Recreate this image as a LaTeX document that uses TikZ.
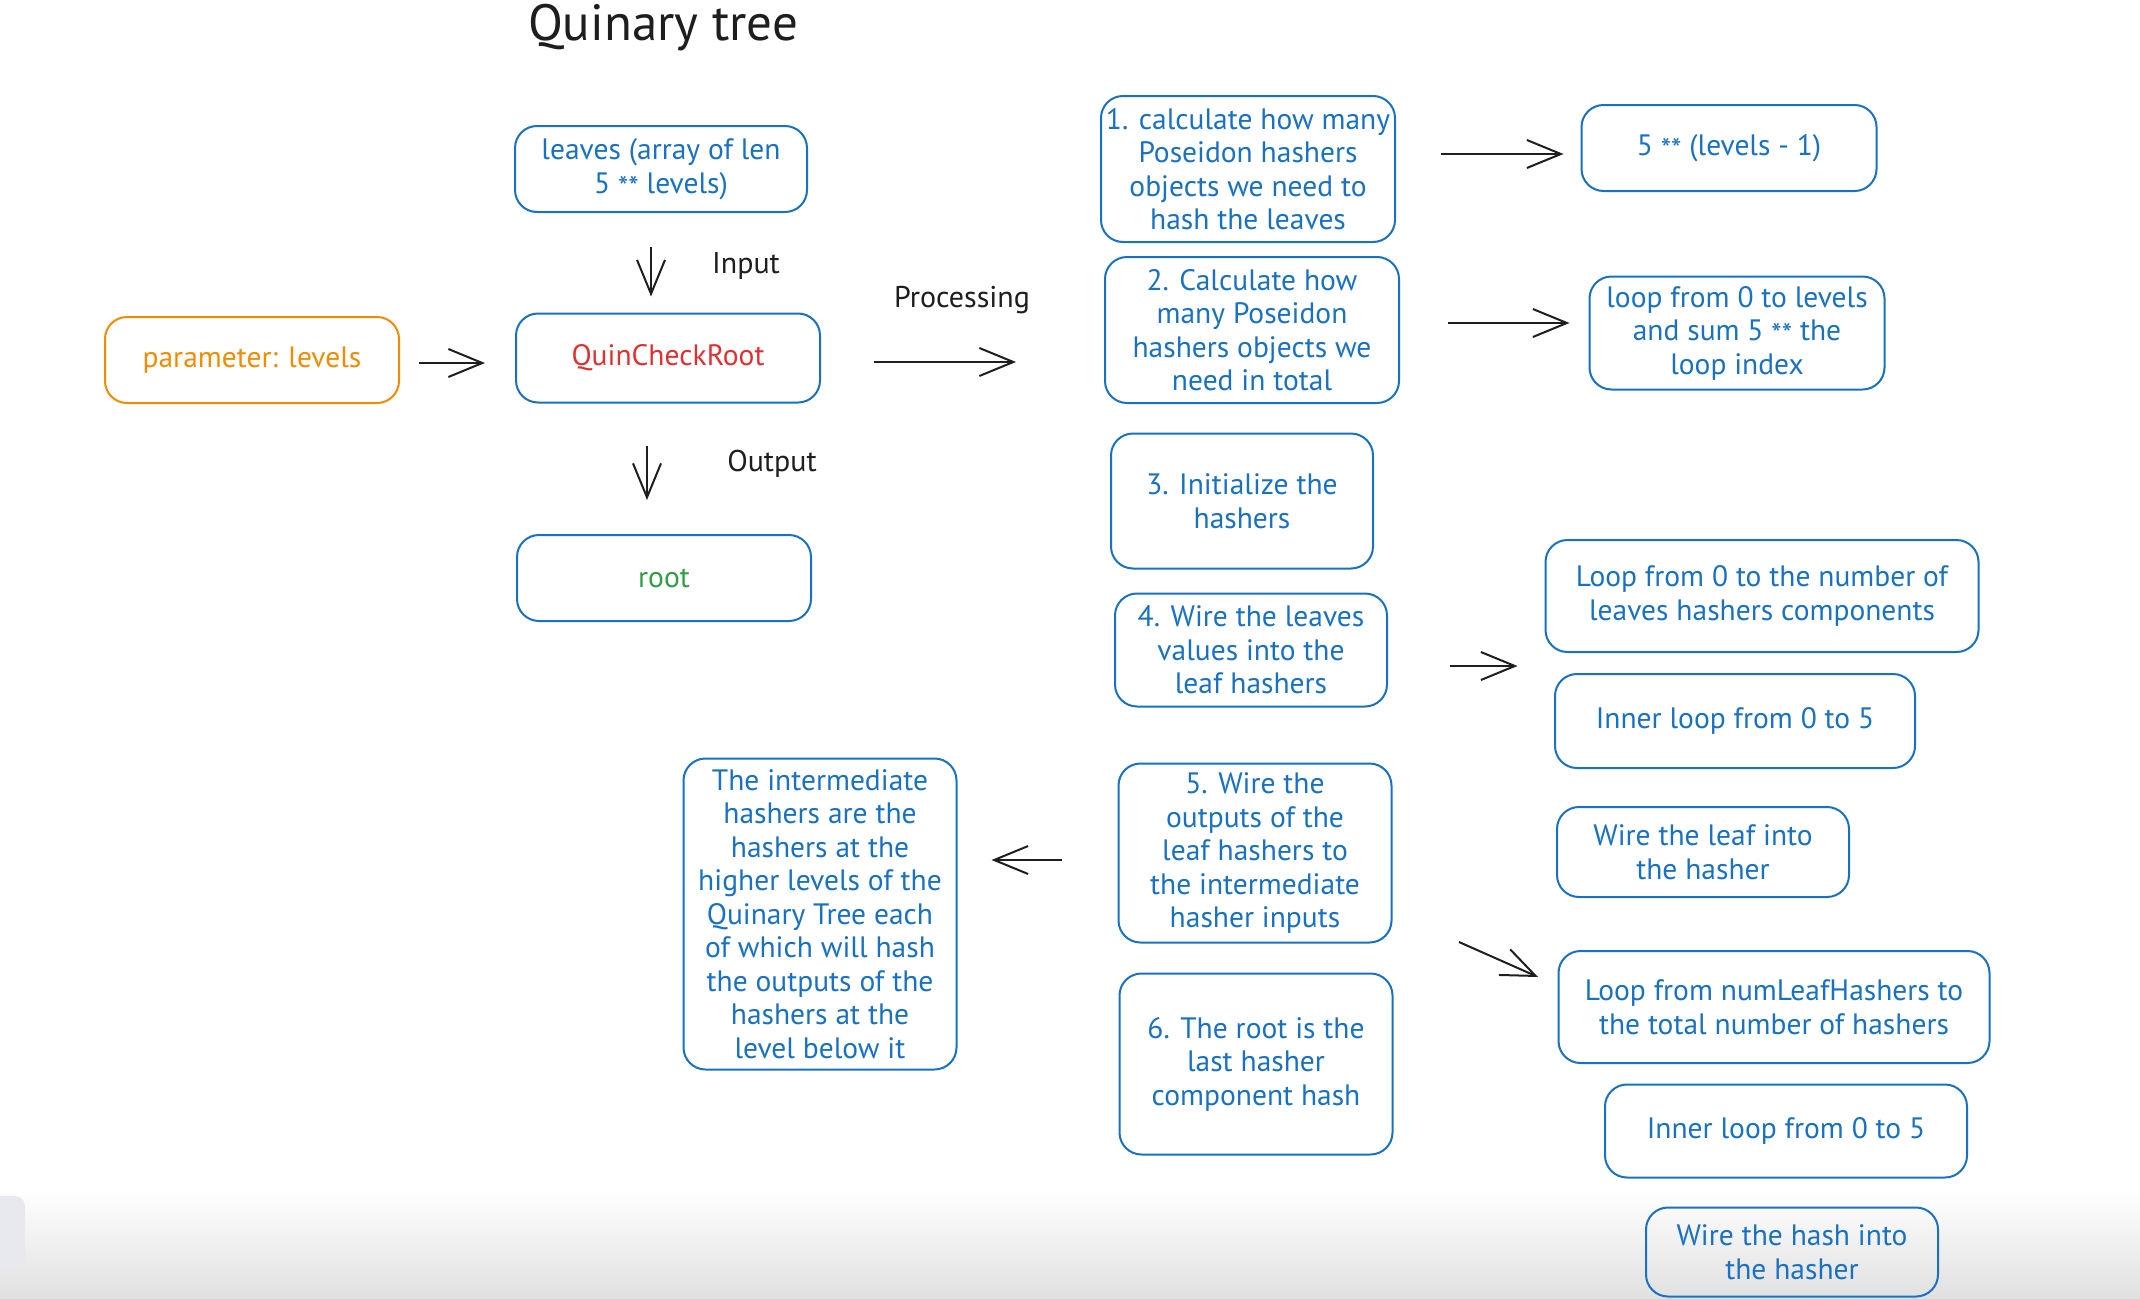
\documentclass[tikz,border=0pt]{standalone}
\usepackage{fontspec}
\setmainfont{PT Sans}
\usetikzlibrary{arrows.meta}
\definecolor{exblue}{HTML}{1971C2}
\definecolor{exorange}{HTML}{F08C00}
\definecolor{exred}{HTML}{E03131}
\definecolor{exgreen}{HTML}{2F9E44}
\definecolor{exblack}{HTML}{1E1E1E}
\definecolor{tabgray}{HTML}{E8E9EE}
\newcommand\mystars{\raisebox{-0.3ex}{**}}
\begin{document}
\begin{tikzpicture}[x=1pt,y=-1pt,
  box/.style={draw=exblue, line width=2pt, rounded corners=22pt, align=center,
    text=exblue, font=\fontsize{29.5}{33.5}\selectfont, inner sep=0pt},
  arr/.style={draw=exblack, line width=2pt,
    -{Straight Barb[length=34pt,width=28pt,line width=2pt]}},
  lbl/.style={text=exblack, font=\fontsize{30}{33}\selectfont, inner sep=0pt}]
\fill[white] (0,0) rectangle (2140,1298);
\useasboundingbox (0,0) rectangle (2140,1298);
\shade[top color=white, bottom color=black!12, draw=none] (0,1190) rectangle (2140,1298);
\fill[tabgray, rounded corners=10pt] (-20,1196) rectangle (25,1268);

% title
\node[lbl, font=\fontsize{51}{55}\selectfont, anchor=base] (title) at (663,41) {Quinary tree};

% left part
\node[box, minimum width=292pt, minimum height=86pt] (leaves) at (661,169) {leaves (array of len\\5 \mystars{} levels)};
\node[box, draw=exorange, text=exorange, minimum width=294pt, minimum height=86pt] (param) at (252,360) {parameter: levels};
\node[box, text=exred, minimum width=304pt, minimum height=89pt] (qcr) at (668,358) {QuinCheckRoot};
\node[box, text=exgreen, minimum width=294pt, minimum height=86pt] (root) at (664,578) {root};

\node[lbl] (input) at (746,266) {Input};
\node[lbl] (output) at (772,464) {Output};
\node[lbl] (processing) at (962,300) {Processing};

% middle column
\node[box, minimum width=294pt, minimum height=146pt] (b1) at (1248,169) {1. calculate how many\\Poseidon hashers\\objects we need to\\hash the leaves};
\node[box, minimum width=294pt, minimum height=146pt] (b2) at (1252,330) {2. Calculate how\\many Poseidon\\hashers objects we\\need in total};
\node[box, minimum width=262pt, minimum height=135pt] (b3) at (1242,501) {3. Initialize the\\hashers};
\node[box, minimum width=272pt, minimum height=113pt] (b4) at (1251,650) {4. Wire the leaves\\values into the\\leaf hashers};
\node[box, minimum width=273pt, minimum height=179pt] (b5) at (1255,853) {5. Wire the\\outputs of the\\leaf hashers to\\the intermediate\\hasher inputs};
\node[box, minimum width=273pt, minimum height=181pt] (b6) at (1256,1064) {6. The root is the\\last hasher\\component hash};
\node[box, minimum width=273pt, minimum height=311pt] (inter) at (820,914) {The intermediate\\hashers are the\\hashers at the\\higher levels of the\\Quinary Tree each\\of which will hash\\the outputs of the\\hashers at the\\level below it};

% right column
\node[box, minimum width=295pt, minimum height=86pt] (pow) at (1729,148) {5 \mystars{} (levels - 1)};
\node[box, minimum width=295pt, minimum height=113pt] (loop) at (1737,333) {loop from 0 to levels\\and sum 5 \mystars{} the\\loop index};
\node[box, minimum width=433pt, minimum height=112pt] (lp1) at (1762,596) {Loop from 0 to the number of\\leaves hashers components};
\node[box, minimum width=360pt, minimum height=94pt] (in1) at (1735,721) {Inner loop from 0 to 5};
\node[box, minimum width=292pt, minimum height=90pt] (wl) at (1703,852) {Wire the leaf into\\the hasher};
\node[box, minimum width=431pt, minimum height=112pt] (lp2) at (1774,1007) {Loop from numLeafHashers to\\the total number of hashers};
\node[box, minimum width=362pt, minimum height=93pt] (in2) at (1786,1131) {Inner loop from 0 to 5};
\node[box, minimum width=292pt, minimum height=89pt] (wh) at (1792,1252) {Wire the hash into\\the hasher};

% connectors
\draw[arr, shorten <=34pt, shorten >=16pt] ([xshift=-10pt]leaves.south) -- ([xshift=-17pt]qcr.north);
\draw[arr, shorten <=42pt, shorten >=34pt] ([xshift=-21pt]qcr.south) -- ([xshift=-17pt]root.north);
\draw[arr, shorten <=19pt, shorten >=30pt] ([yshift=-3pt]param.east) -- ([yshift=-5pt]qcr.west);
\draw[arr, shorten <=53pt, shorten >=88pt] ([yshift=-4pt]qcr.east) -- ([yshift=-4pt]qcr.east -| b2.west);
\draw[arr, shorten <=45pt, shorten >=17pt] ([yshift=15pt]b1.east) -- ([yshift=-6pt]pow.west);
\draw[arr, shorten <=48pt, shorten >=19pt] ([yshift=7pt]b2.east) -- ([yshift=10pt]loop.west);
\draw[arr, shorten <=62pt, shorten >=27pt] ([yshift=-16pt]b4.east) -- ([yshift=-16pt]b4.east -| lp1.west);
\draw[arr, shorten <=56pt, shorten >=34pt] ([yshift=-7pt]b5.west) -- ([yshift=-7pt]b5.west -| inter.east);
\coordinate (d1) at (1459,942);
\coordinate (d2) at (1538,977);
\draw[arr] (d1) -- (d2);
\end{tikzpicture}
\end{document}
